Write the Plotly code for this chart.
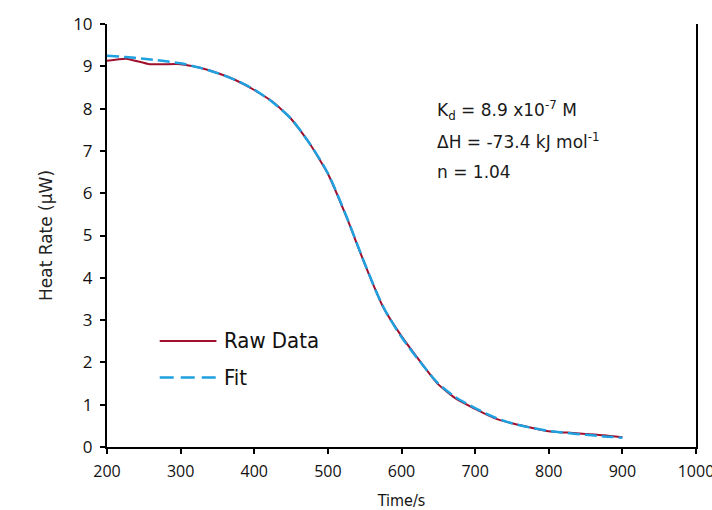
import plotly.graph_objects as go

# ---- data ----
raw_time = [200, 226, 258, 300, 325, 350, 375, 400, 425, 450, 475, 500, 525, 550,
            575, 600, 625, 650, 675, 700, 725, 750, 775, 800, 825, 850, 875, 900]
raw_rate = [9.13, 9.18, 9.05, 9.05, 8.97, 8.84, 8.67, 8.44, 8.16, 7.76, 7.18, 6.46, 5.45, 4.33,
            3.31, 2.62, 2.03, 1.48, 1.13, 0.90, 0.69, 0.56, 0.46, 0.37, 0.34, 0.31, 0.28, 0.23]

fit_time = [200, 225, 250, 275, 300, 325, 350, 375, 400, 425, 450, 475, 500, 525, 550,
            575, 600, 625, 650, 675, 700, 725, 750, 775, 800, 825, 850, 875, 900]
fit_rate = [9.25, 9.22, 9.18, 9.13, 9.07, 8.97, 8.84, 8.67, 8.45, 8.15, 7.76, 7.18, 6.47, 5.46, 4.34,
            3.32, 2.60, 2.02, 1.50, 1.16, 0.92, 0.71, 0.56, 0.46, 0.38, 0.33, 0.29, 0.25, 0.22]

x_ticks = [200, 300, 400, 500, 600, 700, 800, 900, 1000]
y_ticks = [0, 1, 2, 3, 4, 5, 6, 7, 8, 9, 10]

series_names = ["Raw Data", "Fit"]
annot_lines = ["K<sub>d</sub> = 8.9 x10<sup>-7</sup> M",
               "ΔH = -73.4 kJ mol<sup>-1</sup>",
               "n = 1.04"]

RED = "#A0102E"
BLUE = "#1FA0DF"
TICK_FONT = "Open Sans"
WIDE = "DejaVu Sans"
NARROW = "DejaVu Sans Condensed, Liberation Sans Narrow, Arial Narrow, Liberation Sans"

fig = go.Figure()
fig.add_trace(go.Scatter(x=raw_time, y=raw_rate, mode="lines", name=series_names[0],
                         line=dict(color=RED, width=2, shape="spline", smoothing=0.5),
                         showlegend=False))
fig.add_trace(go.Scatter(x=fit_time, y=fit_rate, mode="lines", name=series_names[1],
                         line=dict(color=BLUE, width=2.5, dash="12px,5px", shape="spline", smoothing=0.8),
                         showlegend=False))

# manual legend (paper coordinates)
legend_rows = [(0.2508, RED, "solid", series_names[0]), (0.1642, BLUE, "14px,7px", series_names[1])]
for yy, col, dsh, label in legend_rows:
    fig.add_shape(type="line", xref="paper", yref="paper", x0=0.0895, x1=0.1858, y0=yy, y1=yy,
                  line=dict(color=col, width=2.5 if col == BLUE else 2, dash=dsh))
    fig.add_annotation(xref="paper", yref="paper", x=0.1945, y=yy, text=label, showarrow=False,
                       xanchor="left", yanchor="middle",
                       font=dict(family=NARROW, size=22, color="#111"))

for i, line in enumerate(annot_lines):
    fig.add_annotation(xref="paper", yref="paper", x=0.557, y=0.7966 - i * 0.0738, text=line,
                       showarrow=False, xanchor="left", yanchor="middle",
                       font=dict(family=WIDE, size=17, color="#1a1a1a"))

fig.update_layout(
    width=712, height=510,
    margin=dict(l=107, r=16, t=24, b=63, autoexpand=False),
    paper_bgcolor="white", plot_bgcolor="white",
    xaxis=dict(range=[200, 1000], tickvals=x_ticks, ticks="outside", ticklen=5, tickwidth=1.5,
               tickcolor="black", showline=True, linecolor="black", linewidth=2, showgrid=False,
               zeroline=False, ticklabeloverflow="allow", ticklabelstandoff=4, automargin=False,
               tickfont=dict(family=TICK_FONT, size=16, color="#111"),
               title=dict(text="Time/s", font=dict(family=NARROW, size=16, color="#111"), standoff=22)),
    yaxis=dict(range=[0, 10], tickvals=y_ticks, ticks="outside", ticklen=5, tickwidth=1.5,
               tickcolor="black", showline=True, mirror=True, linecolor="black", linewidth=2,
               showgrid=False, zeroline=False, ticklabelstandoff=4, automargin=False,
               tickfont=dict(family=TICK_FONT, size=17, color="#111"),
               title=dict(text="Heat Rate (μW)", font=dict(family=WIDE, size=17, color="#222"),
                          standoff=16)),
)

# remove the browser's default body margin so the figure fills the window exactly
fig.write_html("out.html", config={"displayModeBar": False},
               post_script="document.body.style.margin='0px';")
